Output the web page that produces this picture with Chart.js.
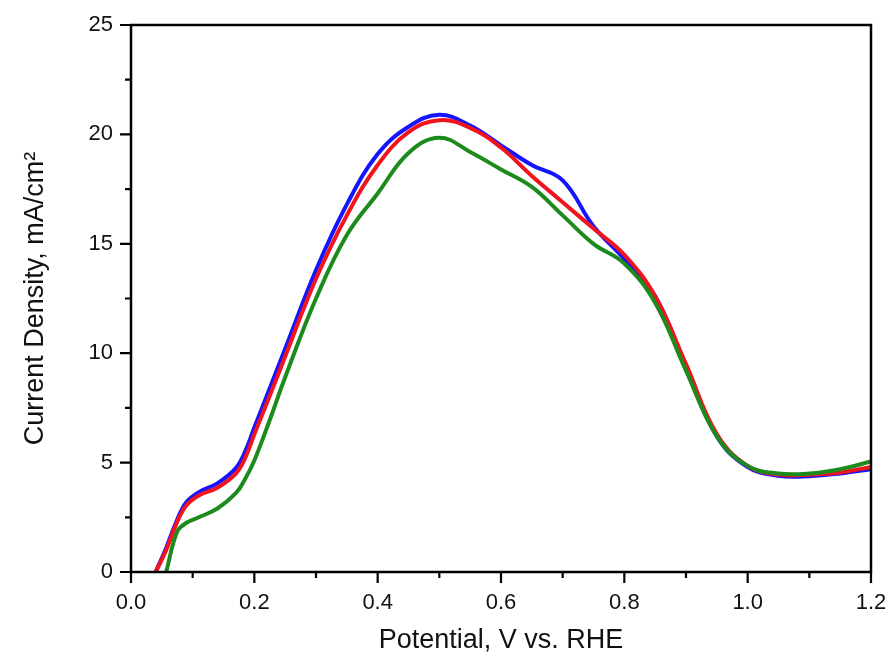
<!DOCTYPE html>
<html>
<head>
<meta charset="utf-8">
<script src="https://cdn.jsdelivr.net/npm/chart.js@4"></script>
<style>
html,body{margin:0;padding:0;background:#fff;}
#wrap{width:891px;height:661px;position:relative;}
</style>
</head>
<body>
<div id="wrap"><canvas id="c" width="891" height="661"></canvas></div>
<script>
// Potential (V vs. RHE)
const potential = [0.04,0.057,0.075,0.09,0.11,0.14,0.17,0.185,0.2,0.225,0.25,0.3,0.35,0.4,0.45,0.5,0.55,0.6,0.65,0.7,0.75,0.8,0.85,0.9,0.95,1.0,1.05,1.1,1.15,1.2];
// Current density (mA/cm2)
const blueSeries  = [0,1.1,2.4,3.2,3.65,4.05,4.75,5.5,6.6,8.4,10.2,13.8,16.8,19.1,20.35,20.9,20.4,19.5,18.6,17.9,15.8,14.3,12.6,9.4,6.2,4.8,4.4,4.38,4.5,4.7];
const redSeries   = [0,1.0,2.3,3.05,3.5,3.85,4.5,5.2,6.3,8.05,9.85,13.4,16.3,18.6,20.1,20.65,20.3,19.4,18.1,16.9,15.7,14.5,12.6,9.5,6.3,4.85,4.45,4.45,4.55,4.8];
const greenSeries = [null,0,1.85,2.25,2.5,2.9,3.6,4.25,5.1,6.95,8.9,12.5,15.4,17.3,19.15,19.85,19.2,18.4,17.6,16.3,15.0,14.1,12.3,9.2,6.2,4.85,4.5,4.5,4.7,5.05];
// Axis ticks
const xTicks = [0,0.2,0.4,0.6,0.8,1.0,1.2];
const yTicks = [0,5,10,15,20,25];
const xTitle = 'Potential, V vs. RHE';
const yTitle = 'Current Density, mA/cm\u00B2';

const toPts = arr => potential.map((x,i)=>({x:x,y:arr[i]}));

const frameAndTicks = {
  id:'frameAndTicks',
  afterDraw(chart){
    const {ctx, chartArea:a, scales:{x,y}} = chart;
    ctx.save();
    ctx.strokeStyle='#000';
    ctx.lineWidth=2.5;
    ctx.lineCap='square';
    ctx.beginPath();
    ctx.moveTo(a.left,a.top); ctx.lineTo(a.right,a.top); ctx.lineTo(a.right,a.bottom);
    ctx.moveTo(a.left,a.top); ctx.lineTo(a.left,a.bottom); ctx.lineTo(a.right,a.bottom);
    ctx.stroke();
    ctx.lineCap='butt';
    ctx.lineWidth=2.2;
    ctx.beginPath();
    for(let i=0;i<xTicks.length;i++){
      const px=x.getPixelForValue(xTicks[i]);
      ctx.moveTo(px,a.bottom); ctx.lineTo(px,a.bottom+11);
      if(i<xTicks.length-1){
        const pm=x.getPixelForValue((xTicks[i]+xTicks[i+1])/2);
        ctx.moveTo(pm,a.bottom); ctx.lineTo(pm,a.bottom+6);
      }
    }
    for(let i=0;i<yTicks.length;i++){
      const py=y.getPixelForValue(yTicks[i]);
      ctx.moveTo(a.left,py); ctx.lineTo(a.left-11,py);
      if(i<yTicks.length-1){
        const pm=y.getPixelForValue((yTicks[i]+yTicks[i+1])/2);
        ctx.moveTo(a.left,pm); ctx.lineTo(a.left-6,pm);
      }
    }
    ctx.stroke();
    ctx.restore();
  }
};

const ds = (label,arr,color)=>({
  label:label, data:toPts(arr), borderColor:color, backgroundColor:color,
  borderWidth:4, pointRadius:0, tension:0.4, fill:false
});

new Chart(document.getElementById('c'),{
  type:'line',
  data:{datasets:[
    ds('green',greenSeries,'#1d8a1d'),
    ds('red',redSeries,'#f0141e'),
    ds('blue',blueSeries,'#1414ff')
  ]},
  options:{
    responsive:false,
    animation:false,
    layout:{padding:{left:0,top:25,right:20,bottom:0}},
    plugins:{legend:{display:false},tooltip:{enabled:false}},
    scales:{
      x:{
        type:'linear', min:0, max:1.2,
        afterBuildTicks(s){ s.ticks = xTicks.map(v=>({value:v})); },
        afterFit(s){ s.height = 89; s.paddingLeft = 0; s.paddingRight = 0; },
        grid:{display:false, drawTicks:false},
        border:{display:false},
        ticks:{padding:18, color:'#111', font:{family:'Liberation Sans, Arial', size:22},
               callback:v=>Number(v).toFixed(1), maxRotation:0, autoSkip:false},
        title:{display:true, text:xTitle, color:'#111',
               font:{family:'Liberation Sans, Arial', size:27}, padding:{top:0,bottom:4}}
      },
      y:{
        type:'linear', min:0, max:25,
        afterBuildTicks(s){ s.ticks = yTicks.map(v=>({value:v})); },
        afterFit(s){ s.width = 131; s.paddingTop = 0; s.paddingBottom = 0; },
        grid:{display:false, drawTicks:false},
        border:{display:false},
        ticks:{padding:18, color:'#111', font:{family:'Liberation Sans, Arial', size:22},
               callback:v=>String(v), autoSkip:false},
        title:{display:true, text:yTitle, color:'#111',
               font:{family:'Liberation Sans, Arial', size:27}, padding:{top:19,bottom:0}}
      }
    }
  },
  plugins:[frameAndTicks]
});
</script>
</body>
</html>
